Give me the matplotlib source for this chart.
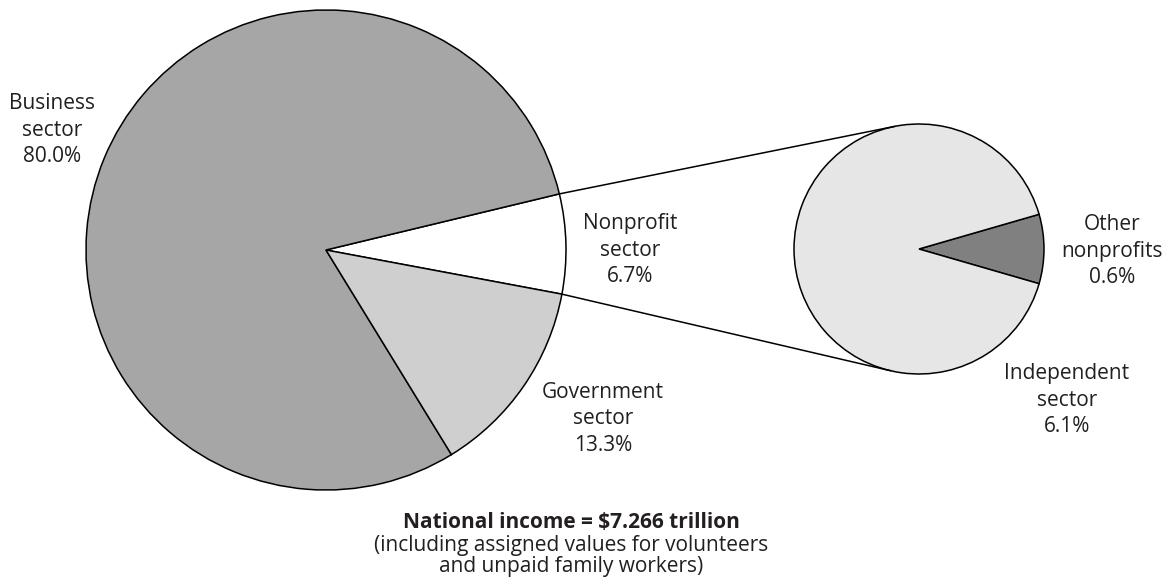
import numpy as np
import matplotlib
matplotlib.use("Agg")
import matplotlib.pyplot as plt

# ---- data ----
main_labels = ["Nonprofit\nsector\n6.7%", "Business\nsector\n80.0%", "Government\nsector\n13.3%"]
main_values = [6.7, 80.0, 13.3]
sub_labels = ["Other\nnonprofits\n0.6%", "Independent\nsector\n6.1%"]
sub_values = [0.6, 6.1]
title_bold = "National income = $7.266 trillion"
title_note = "(including assigned values for volunteers\nand unpaid family workers)"

# ---- styles ----
main_colors = ["#ffffff", "#a6a6a6", "#cfcfcf"]
sub_colors = ["#808080", "#e6e6e6"]
FONT = "Open Sans"
FS = 15

W, H = 1171, 587
fig = plt.figure(figsize=(W / 100, H / 100), dpi=100)
ax = fig.add_axes([0, 0, 1, 1])

big_c = (326, H - 250)
big_r = 240
small_c = (919, H - 249)
small_r = 125

# nonprofit wedge starts at lower edge
start_main = -10.6
wedges, _ = ax.pie(main_values, colors=main_colors, startangle=start_main,
                   center=big_c, radius=big_r, counterclock=True,
                   wedgeprops=dict(edgecolor="black", linewidth=1.1))
start_sub = -sub_values[0] / sum(sub_values) * 360 / 2
wedges2, _ = ax.pie(sub_values, colors=sub_colors, startangle=start_sub,
                    center=small_c, radius=small_r, counterclock=True,
                    wedgeprops=dict(edgecolor="black", linewidth=1.1))

# connector lines: tangent from nonprofit wedge edges to small pie
np_w = wedges[0]
th1, th2 = np.deg2rad(np_w.theta1), np.deg2rad(np_w.theta2)

def tangent(p, upper):
    vx, vy = small_c[0] - p[0], small_c[1] - p[1]
    d = np.hypot(vx, vy)
    L = np.sqrt(d ** 2 - small_r ** 2)
    a = np.arcsin(small_r / d)
    ang = np.arctan2(vy, vx) + (a if upper else -a)
    return (p[0] + L * np.cos(ang), p[1] + L * np.sin(ang))

p_up = (big_c[0] + big_r * np.cos(th2), big_c[1] + big_r * np.sin(th2))
p_lo = (big_c[0] + big_r * np.cos(th1), big_c[1] + big_r * np.sin(th1))
t_up = tangent(p_up, True)
t_lo = tangent(p_lo, False)
ax.plot([p_up[0], t_up[0]], [p_up[1], t_up[1]], color="black", lw=1.1)
ax.plot([p_lo[0], t_lo[0]], [p_lo[1], t_lo[1]], color="black", lw=1.1)

txt = dict(fontfamily=FONT, fontsize=FS, ha="center", va="center",
           multialignment="center", linespacing=1.33, color="#231f20")
ax.text(52, H - 130, main_labels[1], **txt)
ax.text(630, H - 250, main_labels[0], **txt)
ax.text(603, H - 419, main_labels[2], **txt)
ax.text(1112, H - 251, sub_labels[0], **txt)
ax.text(1067, H - 400, sub_labels[1], **txt)

ax.text(571, H - 522, title_bold, fontfamily=FONT, fontsize=FS, fontweight="bold",
        ha="center", va="center", color="#231f20")
ax.text(571, H - 556, title_note, fontfamily=FONT, fontsize=FS,
        ha="center", va="center", multialignment="center", linespacing=1.05,
        color="#231f20")

ax.set_xlim(0, W)
ax.set_ylim(0, H)
ax.set_aspect("equal")
ax.axis("off")
fig.savefig("out.png", dpi=100)
